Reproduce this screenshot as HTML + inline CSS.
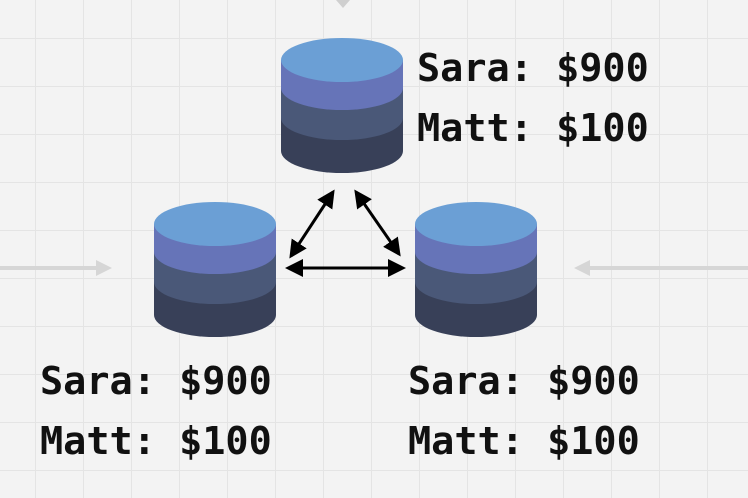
<!DOCTYPE html>
<html><head><style>
body{margin:0;width:748px;height:498px;overflow:hidden;background:#f3f3f3;
background-image:linear-gradient(#e4e4e4 1px,transparent 1px),linear-gradient(90deg,#e4e4e4 1px,transparent 1px);
background-size:48px 48px;background-position:35px 38px;position:relative;font-family:"DejaVu Sans Mono","Liberation Mono",monospace}
.t{position:absolute;font-weight:bold;font-size:38.5px;color:#111;line-height:60px;white-space:pre}
</style></head><body>
<svg width="748" height="498" style="position:absolute;left:0;top:0">
<defs>
<g id="cyl">
<path d="M-61,0 V91 A61,22 0 0 0 61,91 V0Z" fill="#384058"/>
<path d="M-61,0 V58 A61,22 0 0 0 61,58 V0Z" fill="#4a5878"/>
<path d="M-61,0 V28 A61,22 0 0 0 61,28 V0Z" fill="#6674b8"/>
<ellipse cx="0" cy="0" rx="61" ry="22" fill="#6b9fd5"/>
</g>
<marker id="a" markerWidth="6" markerHeight="6" refX="5" refY="3" orient="auto-start-reverse" markerUnits="strokeWidth"><path d="M0,0 L6,3 L0,6z" fill="#000"/></marker>
<marker id="g" markerWidth="4" markerHeight="4" refX="3" refY="2" orient="auto"><path d="M0,0 L4,2 L0,4z" fill="#d6d6d6"/></marker>
</defs>
<path d="M336,0 L350,0 L343,8z" fill="#cfcfcf"/>
<line x1="0" y1="268" x2="108" y2="268" stroke="#d6d6d6" stroke-width="4" marker-end="url(#g)"/>
<line x1="748" y1="268" x2="578" y2="268" stroke="#d6d6d6" stroke-width="4" marker-end="url(#g)"/>
<use href="#cyl" x="342" y="60"/>
<use href="#cyl" x="215" y="224"/>
<use href="#cyl" x="476" y="224"/>
<g stroke="#000" stroke-width="3">
<line x1="288" y1="268" x2="403" y2="268" marker-start="url(#a)" marker-end="url(#a)"/>
<line x1="291" y1="256" x2="333" y2="192" marker-start="url(#a)" marker-end="url(#a)"/>
<line x1="356" y1="192" x2="399" y2="254" marker-start="url(#a)" marker-end="url(#a)"/>
</g>
</svg>
<div class="t" style="left:417px;top:39px">Sara: $900
Matt: $100</div>
<div class="t" style="left:40px;top:352px">Sara: $900
Matt: $100</div>
<div class="t" style="left:408px;top:352px">Sara: $900
Matt: $100</div>
</body></html>
